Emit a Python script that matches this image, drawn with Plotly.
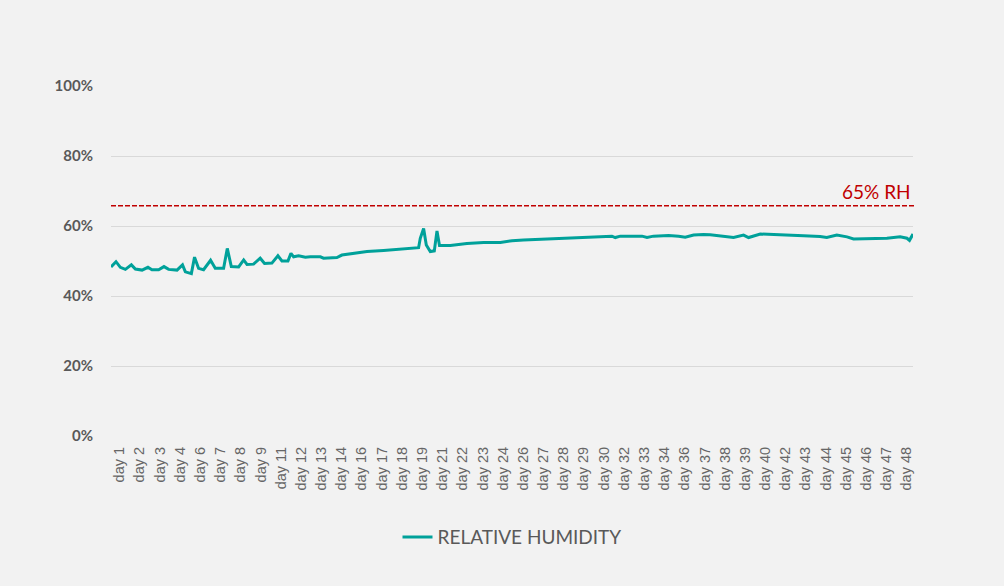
import numpy as np
import plotly.graph_objects as go

# elapsed time in days since logging started
elapsed_days = [
    0.00, 0.30, 0.56, 0.86, 1.22, 1.46, 1.86, 2.21, 2.45, 2.85,
    3.17, 3.45, 3.95, 4.28, 4.45, 4.81, 5.00, 5.24, 5.54, 5.96,
    6.24, 6.74, 6.96, 7.20, 7.64, 7.94, 8.14, 8.53, 8.93, 9.19,
    9.63, 9.99, 10.23, 10.59, 10.77, 10.93, 11.23, 11.63, 11.93, 12.53,
    12.72, 13.52, 13.82, 14.52, 15.32, 16.31, 17.31, 18.41, 18.51, 18.71,
    18.87, 19.11, 19.35, 19.51, 19.66, 20.31, 21.30, 22.30, 23.30, 24.00,
    24.69, 26.29, 27.38, 28.79, 29.98, 30.18, 30.48, 31.78, 32.08, 32.47,
    33.37, 33.97, 34.37, 34.87, 35.46, 35.86, 36.46, 37.26, 37.86, 38.16,
    38.86, 39.65, 41.45, 42.44, 42.84, 43.44, 44.05, 44.44, 45.44, 46.44,
    47.23, 47.64, 47.79, 48.00,
]

# relative humidity (%)
relative_humidity = [
    48.3, 49.8, 48.2, 47.6, 48.9, 47.7, 47.4, 48.2, 47.5, 47.5,
    48.4, 47.6, 47.4, 48.9, 46.9, 46.4, 51.1, 47.9, 47.5, 50.2,
    47.9, 47.9, 53.6, 48.4, 48.3, 50.3, 49.0, 49.1, 50.8, 49.3,
    49.4, 51.5, 50.0, 50.0, 52.2, 51.2, 51.5, 51.1, 51.2, 51.2,
    50.8, 51.0, 51.7, 52.2, 52.7, 53.0, 53.3, 53.8, 56.5, 59.3,
    54.6, 52.7, 52.9, 58.6, 54.4, 54.4, 55.0, 55.3, 55.3, 55.8,
    56.0, 56.3, 56.5, 56.9, 57.1, 56.7, 57.1, 57.1, 56.7, 57.1,
    57.3, 57.1, 56.8, 57.4, 57.6, 57.5, 57.2, 56.7, 57.4, 56.7,
    57.7, 57.6, 57.2, 57.0, 56.7, 57.4, 56.9, 56.3, 56.5, 56.5,
    56.9, 56.5, 55.9, 57.7,
]

# category labels that the axis shows
tick_days = [1, 2, 3, 4, 6, 7, 8, 9, 11, 12, 13, 14, 16, 17, 18, 19, 21, 22, 23, 24,
             26, 27, 28, 29, 30, 32, 33, 34, 36, 37, 38, 39, 40, 42, 43, 44, 45, 46, 47, 48]
tick_labels = ["day %d" % d for d in tick_days]

y_ticks = [0, 20, 40, 60, 80, 100]

rh_limit = 65.8
rh_limit_label = "65% RH"

grey = "#595959"
teal = "#00A19A"
red = "#C00000"

fig = go.Figure()
fig.add_trace(go.Scatter(
    x=elapsed_days, y=relative_humidity, mode="lines",
    name="RELATIVE HUMIDITY",
    line=dict(color=teal, width=3),
))

# 65% limit line
fig.add_shape(type="line", xref="paper", x0=0, x1=1.003, yref="y", y0=rh_limit, y1=rh_limit,
              line=dict(color=red, width=1.5, dash="5px,2px"))
fig.add_annotation(xref="paper", x=1.0, xanchor="right", yref="y", y=rh_limit, yanchor="bottom",
                   yshift=1, text=rh_limit_label, showarrow=False,
                   font=dict(family="Lato", size=19, color=red))

# label positions spread evenly across the category axis
tickvals = np.linspace(0.51, 47.62, len(tick_labels))

fig.update_layout(
    width=1004, height=586,
    margin=dict(l=111, r=91, t=86, b=150),
    paper_bgcolor="#F2F2F2", plot_bgcolor="#F2F2F2",
    showlegend=True,
    legend=dict(orientation="h", x=0.5, xanchor="center", y=-0.289, yanchor="middle",
                font=dict(family="Lato", size=19, color=grey), bgcolor="rgba(0,0,0,0)"),
    xaxis=dict(range=[0, 48], tickvals=tickvals, ticktext=tick_labels, tickangle=-90,
               showgrid=False, zeroline=False, showline=False, ticks="",
               ticklabelstandoff=7,
               tickfont=dict(family="Liberation Sans", size=14.5, color="#666666")),
    yaxis=dict(range=[0, 100], tickvals=y_ticks, ticktext=["%d%%" % v for v in y_ticks],
               showgrid=True, gridcolor="#D9D9D9", gridwidth=1, zeroline=False,
               ticks="", ticklabelstandoff=17,
               tickfont=dict(family="Lato", size=15, color=grey, weight="bold")),
)

# page has a default 8px body margin; drop it so the chart fills the window
fig.write_html("out.html", config={"displayModeBar": False},
               post_script="document.body.style.margin='0';")
